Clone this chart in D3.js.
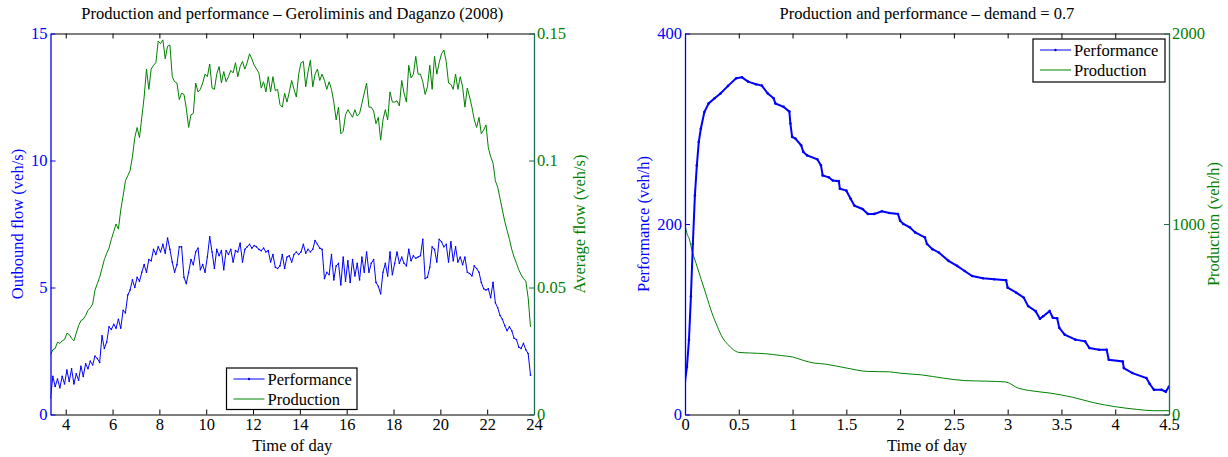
<!DOCTYPE html>
<html><head><meta charset="utf-8">
<script src="https://cdn.jsdelivr.net/npm/d3@7"></script>
<style>
body{margin:0;background:#fff}
svg text{font-family:"Liberation Serif","Times New Roman",Times,serif}
</style>
</head><body>
<svg id="c" width="1228" height="457"></svg>
<script>
// ---------- Left panel data (Geroliminis and Daganzo, 2008) ----------
const leftStart = 3.35;   // first sample (hour of day)
const leftStep = 0.1;     // hours between samples
const leftXTicks = [4, 6, 8, 10, 12, 14, 16, 18, 20, 22, 24];
const leftYTicks = [0, 5, 10, 15];
const leftY2Ticks = [0, 0.05, 0.1, 0.15];
// Performance: outbound flow (veh/s)
const perfLeft = [
0.65,1.5,1.1,1.4,1.05,1.5,1.2,
1.75,1.3,1.8,1.2,1.6,1.35,1.9,1.5,2.0,1.8,
2.1,1.95,2.3,2.2,2.05,3.1,2.6,2.85,3.45,3.35,
3.55,3.4,3.75,3.4,4.1,4.0,4.7,4.9,5.3,5.0,
5.4,5.25,5.6,5.9,5.6,6.1,6.05,6.5,6.3,6.6,
6.4,6.7,6.35,6.95,6.5,6.0,5.6,5.9,6.6,6.6,
5.4,5.15,5.6,6.1,5.9,6.4,6.55,5.7,5.9,5.6,
6.2,7.0,6.4,5.75,6.5,6.25,6.45,5.7,6.45,6.3,
6.5,6.0,6.45,6.4,6.75,6.0,6.5,6.6,6.7,6.55,
6.65,6.6,6.5,6.45,6.55,6.4,6.45,6.0,6.3,5.8,
5.75,5.85,6.3,5.75,6.2,6.25,6.0,6.3,6.4,6.3,
6.4,6.7,6.35,6.5,6.4,6.5,6.85,6.7,6.55,6.5,
5.35,5.6,5.5,6.3,5.3,5.85,5.95,5.1,6.2,5.25,
6.05,5.2,6.1,5.45,5.95,5.3,6.2,5.6,6.4,5.6,
5.95,6.1,5.2,5.05,4.75,5.6,5.95,5.45,6.4,5.5,
5.95,6.4,5.95,6.2,5.95,5.85,6.5,6.05,6.25,6.15,
6.2,6.25,6.9,5.35,5.4,5.8,6.6,6.5,6.0,6.9,
6.8,6.6,6.7,6.0,6.8,6.05,6.6,6.0,6.2,5.9,
6.2,5.6,5.55,5.45,5.85,5.75,5.6,5.2,4.95,4.9,
4.95,4.6,5.2,4.4,4.2,3.9,3.75,3.5,3.3,3.45,
3.3,3.0,2.95,2.65,2.6,2.8,2.55,2.4,1.55
];
// Production: average flow (veh/s)
const prodLeft = [
0.0235,0.0255,0.026,0.0285,0.028,0.029,0.0295,
0.032,0.0315,0.030,0.029,0.032,0.035,0.037,0.0375,0.039,0.041,
0.042,0.0435,0.049,0.0515,0.054,0.0575,0.061,0.0635,0.0655,0.069,
0.072,0.075,0.073,0.0805,0.086,0.092,0.094,0.096,0.1015,0.109,
0.113,0.109,0.117,0.125,0.136,0.128,0.136,0.1375,0.1385,0.147,
0.146,0.1475,0.140,0.145,0.1455,0.133,0.131,0.1305,0.124,0.1265,
0.126,0.1205,0.113,0.118,0.1185,0.1305,0.127,0.128,0.1305,0.134,
0.133,0.138,0.1285,0.128,0.134,0.137,0.1305,0.135,0.131,0.133,
0.1355,0.1345,0.1385,0.133,0.137,0.139,0.136,0.1385,0.142,0.140,
0.1375,0.136,0.1345,0.1285,0.131,0.127,0.133,0.127,0.133,0.1275,
0.128,0.122,0.121,0.1265,0.123,0.127,0.1315,0.128,0.125,0.134,
0.1385,0.139,0.129,0.135,0.1395,0.129,0.134,0.136,0.1315,0.134,
0.1315,0.128,0.131,0.128,0.123,0.116,0.121,0.1105,0.1115,0.118,
0.120,0.1185,0.117,0.120,0.1175,0.1185,0.1225,0.1265,0.1305,0.121,
0.121,0.1195,0.1145,0.117,0.108,0.116,0.120,0.116,0.127,0.123,
0.123,0.1235,0.1215,0.1315,0.1265,0.123,0.1375,0.1325,0.134,0.141,
0.134,0.134,0.131,0.126,0.129,0.1375,0.128,0.141,0.134,0.1385,
0.142,0.1435,0.139,0.1305,0.130,0.128,0.134,0.128,0.133,0.129,
0.121,0.1285,0.125,0.121,0.116,0.113,0.117,0.1105,0.112,0.114,
0.105,0.1015,0.099,0.092,0.0895,0.085,0.0805,0.076,0.0725,0.069,
0.065,0.062,0.0595,0.057,0.055,0.0535,0.0525,0.046,0.0345
];

// ---------- Right panel data (demand = 0.7) ----------
const rightXTicks = [0, 0.5, 1, 1.5, 2, 2.5, 3, 3.5, 4, 4.5];
const rightYTicks = [0, 200, 400];
const rightY2Ticks = [0, 1000, 2000];
const perfRightTime = [0,0.018,0.037,0.055,0.073,0.092,0.11,0.128,0.147,0.18,0.22,0.275,0.33,0.4,0.476,0.53,0.586,0.66,0.714,0.77,0.824,0.84,0.916,0.97,0.98,0.996,1.026,1.08,1.1,1.136,1.23,1.264,1.28,1.337,1.374,1.43,1.44,1.5,1.54,1.575,1.65,1.7,1.76,1.83,1.9,1.98,2.0,2.03,2.09,2.14,2.23,2.25,2.3,2.36,2.45,2.53,2.6,2.67,2.77,2.875,2.985,3.0,3.08,3.15,3.19,3.26,3.3,3.33,3.39,3.42,3.46,3.48,3.53,3.63,3.72,3.76,3.85,3.92,3.94,4.07,4.08,4.16,4.29,4.32,4.36,4.43,4.47,4.5];
const perfRight = [34.6,50,78.6,124,179,230,261.5,286,300,317.5,326.6,332,337,345,353,354,349.5,346.7,345.3,337,332,326.6,323,318,305.5,291.5,289.7,282.6,275.7,272,267.9,261.5,251,249,245.7,245,237,235,226.4,219.3,215.8,210.6,210.6,213.4,211.6,210.5,203.5,200,196.5,191.2,186,179,173.6,170.1,161.3,156,150.7,145.4,143,142,140.9,133.2,127.9,122.6,113.8,108.5,100.5,103.2,108.5,101.5,101,91,83.9,78.6,76.8,69.8,68,68,57.5,55.7,48.7,43.5,38.2,32.2,25.9,25.9,24,29.3];
const prodRightTime = [0,0.02,0.04,0.07,0.1,0.15,0.2,0.25,0.3,0.35,0.4,0.45,0.5,0.6,0.75,0.9,1.0,1.1,1.2,1.3,1.5,1.7,1.9,2.0,2.2,2.4,2.6,2.8,2.98,3.1,3.2,3.4,3.6,3.8,4.0,4.2,4.35,4.5];
const prodRight = [995,947,921,850,798,710,622,534,463,402,367,340,326,323,319,309,302,284,270,265,244,226,224,217,208,191,178,175,171,138,126,112,91,62,41,27,20,20];

// ---------- drawing ----------
const BLUE = "#0000ff", GREEN = "#008000", RAXIS = "#1d6b55";
const FS = "16.5px";
const svg = d3.select("#c");
svg.append("rect").attr("width",1228).attr("height",457).attr("fill","#fff");

function panel(cfg){
  const g = svg.append("g");
  const x = d3.scaleLinear().domain(cfg.xDomain).range([cfg.left, cfg.right]);
  const y = d3.scaleLinear().domain(cfg.yDomain).range([cfg.bottom, cfg.top]);
  const y2 = d3.scaleLinear().domain(cfg.y2Domain).range([cfg.bottom, cfg.top]);
  const clipId = "clip" + cfg.id;
  svg.append("clipPath").attr("id", clipId).append("rect")
    .attr("x", cfg.left).attr("y", cfg.top - 2)
    .attr("width", cfg.right - cfg.left).attr("height", cfg.bottom - cfg.top + 2);

  // production (right axis)
  g.append("path").datum(cfg.prod)
    .attr("clip-path", `url(#${clipId})`)
    .attr("fill","none").attr("stroke",GREEN).attr("stroke-width",1)
    .attr("d", d3.line().x(d=>x(d[0])).y(d=>y2(d[1])).curve(cfg.prodCurve || d3.curveLinear));
  // performance (left axis)
  g.append("path").datum(cfg.perf)
    .attr("clip-path", `url(#${clipId})`)
    .attr("fill","none").attr("stroke",BLUE).attr("stroke-width",cfg.perfWidth)
    .attr("d", d3.line().x(d=>x(d[0])).y(d=>y(d[1])));
  g.append("g").attr("clip-path", `url(#${clipId})`).selectAll("circle").data(cfg.perf).join("circle")
    .attr("cx", d=>x(d[0])).attr("cy", d=>y(d[1])).attr("r", cfg.markerR).attr("fill", BLUE);

  const fmt = d => String(d);
  // bottom axis
  const ax = g.append("g").attr("transform",`translate(0,${cfg.bottom})`)
    .call(d3.axisBottom(x).tickValues(cfg.xTicks).tickFormat(fmt).tickSizeInner(-5).tickSizeOuter(0).tickPadding(4));
  ax.select(".domain").attr("stroke","#000");
  ax.selectAll(".tick line").attr("stroke","#000");
  ax.selectAll("text").attr("fill","#000").style("font-size",FS);
  // top axis
  const at = g.append("g").attr("transform",`translate(0,${cfg.top})`)
    .call(d3.axisTop(x).tickValues(cfg.xTicks).tickFormat("").tickSizeInner(-5).tickSizeOuter(0));
  at.select(".domain").attr("stroke","#000");
  at.selectAll(".tick line").attr("stroke","#000");
  // left axis
  const al = g.append("g").attr("transform",`translate(${cfg.left},0)`)
    .call(d3.axisLeft(y).tickValues(cfg.yTicks).tickFormat(fmt).tickSizeInner(-5).tickSizeOuter(0).tickPadding(3));
  al.select(".domain").attr("stroke",BLUE).attr("stroke-width",1.3);
  al.selectAll(".tick line").attr("stroke",BLUE);
  al.selectAll("text").attr("fill",BLUE).style("font-size",FS);
  // right axis
  const ar = g.append("g").attr("transform",`translate(${cfg.right},0)`)
    .call(d3.axisRight(y2).tickValues(cfg.y2Ticks).tickFormat(fmt).tickSizeInner(-5).tickSizeOuter(0).tickPadding(3));
  ar.select(".domain").attr("stroke",RAXIS).attr("stroke-width",1.3);
  ar.selectAll(".tick line").attr("stroke",RAXIS);
  ar.selectAll("text").attr("fill",GREEN).style("font-size",FS);

  // titles and labels
  const cx = (cfg.left + cfg.right) / 2, cy = (cfg.top + cfg.bottom) / 2;
  g.append("text").attr("x",cx).attr("y",19).attr("text-anchor","middle")
    .style("font-size","16.5px").attr("fill","#000").text(cfg.title);
  g.append("text").attr("x",cx).attr("y",451).attr("text-anchor","middle")
    .style("font-size",FS).attr("fill","#000").text("Time of day");
  g.append("text").attr("transform",`translate(${cfg.yLabelX},${cy}) rotate(-90)`)
    .attr("text-anchor","middle").attr("dy","0.35em").style("font-size",FS)
    .attr("fill",BLUE).text(cfg.yLabel);
  g.append("text").attr("transform",`translate(${cfg.y2LabelX},${cy}) rotate(-90)`)
    .attr("text-anchor","middle").attr("dy","0.35em").style("font-size",FS)
    .attr("fill",GREEN).text(cfg.y2Label);

  // legend
  const L = cfg.legend;
  const lg = g.append("g");
  lg.append("rect").attr("x",L.x).attr("y",L.y).attr("width",L.w).attr("height",L.h)
    .attr("fill","#fff").attr("stroke","#000").attr("stroke-width",1.2);
  const rows = [{name:"Performance", color:BLUE, dot:true},{name:"Production", color:GREEN, dot:false}];
  rows.forEach((r,i)=>{
    const yy = L.y + 11 + i*20;
    lg.append("line").attr("x1",L.x+7).attr("x2",L.x+38).attr("y1",yy).attr("y2",yy)
      .attr("stroke",r.color).attr("stroke-width",1);
    if (r.dot) lg.append("circle").attr("cx",L.x+22.5).attr("cy",yy).attr("r",1.2).attr("fill",r.color);
    lg.append("text").attr("x",L.x+41).attr("y",yy).attr("dy","0.35em")
      .style("font-size",FS).attr("fill","#000").text(r.name);
  });
}

panel({
  id:"L", left:50.5, right:534, top:33.5, bottom:414.5,
  xDomain:[leftStart, 24], yDomain:[0,15], y2Domain:[0,0.15],
  xTicks:leftXTicks, yTicks:leftYTicks, y2Ticks:leftY2Ticks,
  perf: perfLeft.map((v,i)=>[leftStart + i*leftStep, v]),
  prod: prodLeft.map((v,i)=>[leftStart + i*leftStep, v]),
  perfWidth:1, markerR:0.8,
  title:"Production and performance \u2013 Geroliminis and Daganzo (2008)",
  yLabel:"Outbound flow (veh/s)", y2Label:"Average flow (veh/s)",
  yLabelX:17, y2LabelX:579,
  legend:{x:226.5, y:368, w:130.5, h:41.5}
});
panel({
  id:"R", left:685, right:1169, top:33.5, bottom:414.5,
  xDomain:[0,4.5], yDomain:[0,400], y2Domain:[0,2000],
  xTicks:rightXTicks, yTicks:rightYTicks, y2Ticks:rightY2Ticks,
  perf: perfRightTime.map((t,i)=>[t, perfRight[i]]),
  prod: prodRightTime.map((t,i)=>[t, prodRight[i]]),
  prodCurve: d3.curveMonotoneX,
  perfWidth:2, markerR:1.3,
  title:"Production and performance \u2013 demand = 0.7",
  yLabel:"Performance (veh/h)", y2Label:"Production (veh/h)",
  yLabelX:643, y2LabelX:1213,
  legend:{x:1033, y:39, w:132, h:43}
});
</script>
</body></html>
